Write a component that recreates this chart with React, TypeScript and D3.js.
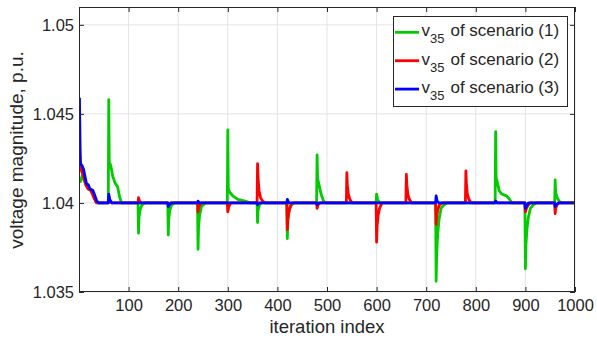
import React, { useEffect, useRef } from "react";
import * as d3 from "d3";

// vertices of each trace: [iteration, voltage in p.u.]
const scenario1: [number, number][] = [
  [1, 1.0413], [3, 1.0412], [6, 1.0415], [10, 1.0413], [14, 1.041], [18, 1.0408], [24, 1.0407], [30, 1.0404], [34, 1.0401], [38, 1.04],
  [59, 1.04], [60, 1.0458], [61, 1.0423], [64, 1.0421], [68, 1.0415], [73, 1.0411], [78, 1.0409], [82, 1.0403], [86, 1.04],
  [119, 1.04], [120, 1.0383], [121, 1.0392], [123, 1.0396], [127, 1.0399], [133, 1.04],
  [179, 1.04], [180, 1.0382], [181, 1.0391], [183, 1.0396], [187, 1.0399], [193, 1.04],
  [239, 1.04], [240, 1.0374], [241, 1.0386], [243, 1.0393], [247, 1.0398], [255, 1.04],
  [299, 1.04], [300, 1.0441], [301, 1.0408], [304, 1.0406], [310, 1.0404], [320, 1.0402], [335, 1.0401], [345, 1.04],
  [359, 1.04], [360, 1.0389], [361, 1.0396], [364, 1.0399], [368, 1.04],
  [419, 1.04], [420, 1.038], [421, 1.039], [424, 1.0396], [428, 1.0399], [434, 1.04],
  [479, 1.04], [480, 1.0427], [481, 1.0414], [484, 1.041], [488, 1.0405], [493, 1.0401], [498, 1.04],
  [599, 1.04], [600, 1.0405], [602, 1.0402], [606, 1.04],
  [719, 1.04], [720, 1.0356], [721, 1.037], [723, 1.0382], [726, 1.0391], [730, 1.0397], [736, 1.0399], [742, 1.04],
  [839, 1.04], [840, 1.044], [841, 1.0414], [843, 1.0412], [847, 1.0407], [852, 1.0405], [862, 1.0404], [868, 1.0402], [873, 1.04],
  [899, 1.04], [900, 1.0363], [901, 1.0376], [903, 1.0385], [906, 1.0392], [910, 1.0397], [916, 1.0399], [922, 1.04],
  [959, 1.04], [960, 1.0413], [961, 1.0406], [964, 1.0403], [968, 1.0401], [972, 1.04],
  [1000, 1.04],
];

const scenario2: [number, number][] = [
  [1, 1.0455], [2, 1.0425], [5, 1.0418], [10, 1.0414], [14, 1.041], [18, 1.0408], [24, 1.0407], [30, 1.0403], [35, 1.04],
  [59, 1.04], [60, 1.0403], [62, 1.0401], [66, 1.04],
  [119, 1.04], [120, 1.0403], [122, 1.0401], [126, 1.04],
  [179, 1.04], [180, 1.0399], [184, 1.04],
  [239, 1.04], [240, 1.0395], [242, 1.0398], [246, 1.04],
  [299, 1.04], [300, 1.0395], [302, 1.0398], [306, 1.04],
  [359, 1.04], [360, 1.0422], [361, 1.0414], [363, 1.0407], [366, 1.0403], [370, 1.0401], [375, 1.04],
  [419, 1.04], [420, 1.0385], [421, 1.0391], [423, 1.0395], [426, 1.0398], [430, 1.04],
  [479, 1.04], [480, 1.0397], [482, 1.0399], [486, 1.04],
  [539, 1.04], [540, 1.0417], [541, 1.041], [543, 1.0405], [546, 1.0402], [551, 1.04],
  [599, 1.04], [600, 1.0378], [601, 1.0387], [603, 1.0393], [606, 1.0397], [611, 1.04],
  [659, 1.04], [660, 1.0416], [661, 1.041], [663, 1.0405], [666, 1.0402], [671, 1.04],
  [719, 1.04], [720, 1.0388], [721, 1.0392], [723, 1.0396], [727, 1.0399], [732, 1.04],
  [779, 1.04], [780, 1.0418], [781, 1.0411], [783, 1.0405], [786, 1.0402], [791, 1.04],
  [839, 1.04], [840, 1.0401], [843, 1.04],
  [899, 1.04], [900, 1.0395], [902, 1.0397], [906, 1.0399], [910, 1.04],
  [959, 1.04], [960, 1.0394], [961, 1.0397], [964, 1.0399], [968, 1.04],
  [1000, 1.04],
];

const scenario3: [number, number][] = [
  [1, 1.0459], [2, 1.043], [3, 1.0422], [6, 1.0421], [9, 1.0419], [12, 1.0415], [15, 1.0411], [19, 1.041], [22, 1.0408], [28, 1.0407], [32, 1.0404], [36, 1.0401], [40, 1.04],
  [59, 1.04], [60, 1.0405], [62, 1.0402], [66, 1.04],
  [179, 1.04], [180, 1.0398], [182, 1.0399], [186, 1.04],
  [239, 1.04], [240, 1.0401], [243, 1.04],
  [359, 1.04], [360, 1.0399], [363, 1.04],
  [419, 1.04], [420, 1.0402], [423, 1.04],
  [479, 1.04], [480, 1.0399], [483, 1.04],
  [719, 1.04], [720, 1.0404], [722, 1.0401], [726, 1.04],
  [839, 1.04], [840, 1.0401], [843, 1.04],
  [899, 1.04], [900, 1.0397], [902, 1.0398], [906, 1.04],
  [959, 1.04], [960, 1.0398], [962, 1.0399], [966, 1.04],
  [1000, 1.04],
];

const xTicks = [100, 200, 300, 400, 500, 600, 700, 800, 900, 1000];
const yTicks = [1.035, 1.04, 1.045, 1.05];
const seriesNames = ["(1)", "(2)", "(3)"];
const seriesColors = ["#00cc00", "#ff0000", "#0000ff"];

export default function App() {
  const svgRef = useRef<SVGSVGElement>(null);

  useEffect(() => {
    const W = 597;
    const H = 339;
    const m = { left: 79, right: 22, top: 7, bottom: 47 };
    const w = W - m.left - m.right;
    const h = H - m.top - m.bottom;
    const font = "'Liberation Sans', Arial, Helvetica, sans-serif";
    const axisColor = "#262626";

    const svg = d3.select(svgRef.current);
    svg.selectAll("*").remove();
    svg.attr("width", W).attr("height", H).style("background", "#fff");

    const x = d3.scaleLinear().domain([0, 1000]).range([0, w]);
    const y = d3.scaleLinear().domain([1.035, 1.051]).range([h, 0]);

    const g = svg.append("g").attr("transform", `translate(${m.left},${m.top})`);

    // grid
    g.append("g")
      .selectAll("line")
      .data(xTicks)
      .join("line")
      .attr("x1", (d) => x(d)).attr("x2", (d) => x(d))
      .attr("y1", 0).attr("y2", h)
      .attr("stroke", "#e3e3e3").attr("stroke-width", 1);
    g.append("g")
      .selectAll("line")
      .data(yTicks)
      .join("line")
      .attr("x1", 0).attr("x2", w)
      .attr("y1", (d) => y(d)).attr("y2", (d) => y(d))
      .attr("stroke", "#e3e3e3").attr("stroke-width", 1);

    // data lines
    g.append("clipPath").attr("id", "plotclip")
      .append("rect").attr("width", w).attr("height", h);

    const line = d3.line<[number, number]>()
      .x((d) => x(d[0]))
      .y((d) => y(d[1]));

    [scenario1, scenario2, scenario3].forEach((s, i) => {
      g.append("path")
        .datum(s)
        .attr("clip-path", "url(#plotclip)")
        .attr("fill", "none")
        .attr("stroke", seriesColors[i])
        .attr("stroke-width", 2.8)
        .attr("stroke-linejoin", "round")
        .attr("d", line);
    });

    // axes (inside ticks, box on)
    const xAxis = d3.axisBottom(x).tickValues(xTicks).tickSize(-5).tickPadding(7).tickFormat(d3.format("d"));
    const yAxis = d3.axisLeft(y).tickValues(yTicks).tickSize(-5).tickPadding(5).tickFormat((d) => String(+d));
    const xTop = d3.axisTop(x).tickValues(xTicks).tickSize(-5).tickFormat(() => "");
    const yRight = d3.axisRight(y).tickValues(yTicks).tickSize(-5).tickFormat(() => "");

    const styleAxis = (sel: d3.Selection<SVGGElement, unknown, null, undefined>) => {
      sel.select(".domain").remove();
      sel.selectAll("line").attr("stroke", axisColor);
      sel.selectAll("text").attr("fill", axisColor).style("font-family", font).style("font-size", "16.5px");
    };

    g.append("g").attr("transform", `translate(0,${h})`).call(xAxis).call(styleAxis);
    g.append("g").call(yAxis).call(styleAxis);
    g.append("g").call(xTop).call(styleAxis);
    g.append("g").attr("transform", `translate(${w},0)`).call(yRight).call(styleAxis);

    g.append("rect")
      .attr("x", 0.5).attr("y", 0.5).attr("width", w - 1).attr("height", h - 1)
      .attr("fill", "none").attr("stroke", axisColor).attr("stroke-width", 1);

    // axis labels
    svg.append("text")
      .attr("x", m.left + w / 2).attr("y", 333)
      .attr("text-anchor", "middle")
      .attr("fill", axisColor)
      .style("font-family", font).style("font-size", "18.5px")
      .text("iteration index");
    svg.append("text")
      .attr("transform", `translate(23,150) rotate(-90)`)
      .attr("text-anchor", "middle")
      .attr("fill", axisColor)
      .style("font-family", font).style("font-size", "19px")
      .text("voltage magnitude, p.u.");

    // legend
    const lg = svg.append("g").attr("transform", "translate(393,16)");
    lg.append("rect")
      .attr("x", 0.5).attr("y", 0.5).attr("width", 174).attr("height", 90)
      .attr("fill", "#fff").attr("stroke", axisColor).attr("stroke-width", 1);
    seriesNames.forEach((name, i) => {
      const cy = 16.3 + i * 28.4;
      lg.append("line")
        .attr("x1", 2).attr("x2", 26).attr("y1", cy).attr("y2", cy)
        .attr("stroke", seriesColors[i]).attr("stroke-width", 2.8);
      const t = lg.append("text")
        .attr("x", 28.5).attr("y", cy + 4)
        .attr("fill", axisColor)
        .style("font-family", font).style("font-size", "17px");
      t.append("tspan").text("v");
      t.append("tspan").attr("dy", 7).style("font-size", "13px").text("35");
      t.append("tspan").attr("dy", -7).attr("dx", 6).text(`of scenario ${name}`);
    });
  }, []);

  return (
    <div style={{ position: "absolute", left: 0, top: 0 }}>
      <svg ref={svgRef}></svg>
    </div>
  );
}
